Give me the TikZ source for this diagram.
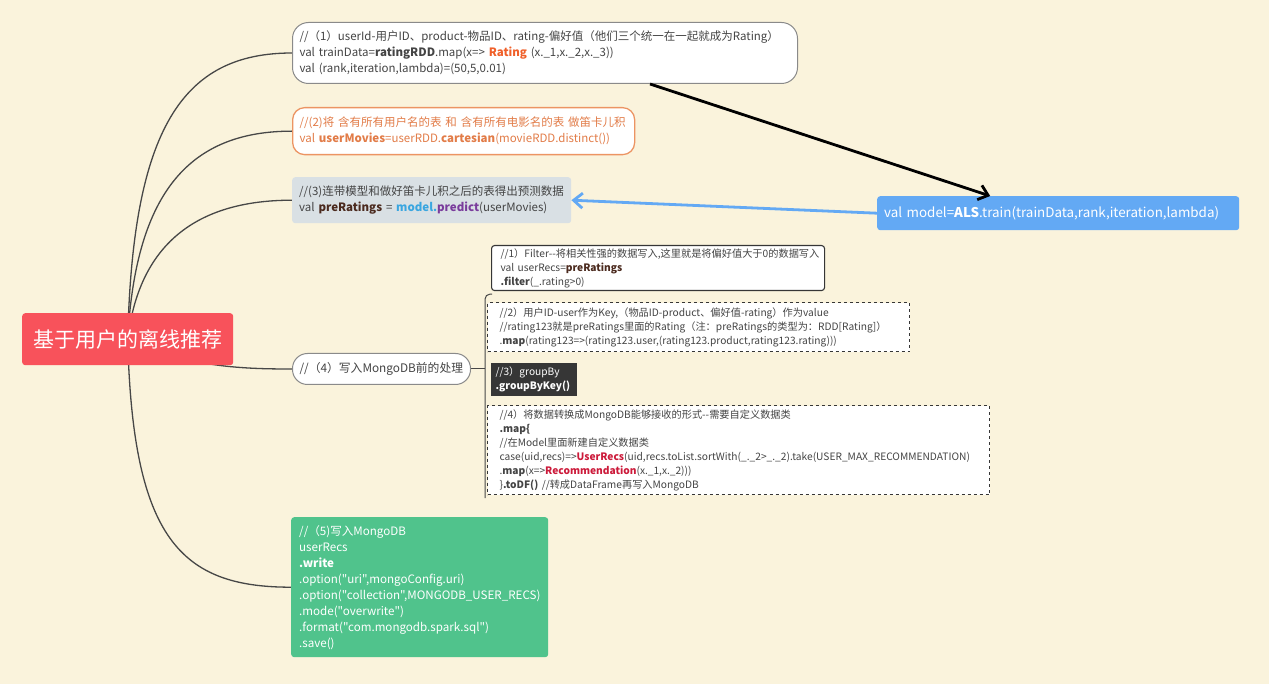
\documentclass[tikz,border=0pt]{standalone}
\usepackage{fontspec}
\newfontfamily\mapfont{Noto Sans CJK SC}
\usepackage{tikz}
\usetikzlibrary{arrows.meta, positioning, backgrounds, calc}

\definecolor{paper}{HTML}{FAF3DC}
\definecolor{rootred}{HTML}{F8525B}
\definecolor{ink}{HTML}{444444}
\definecolor{edgegray}{HTML}{8A8A8A}
\definecolor{wire}{HTML}{474747}
\definecolor{orangeline}{HTML}{EC9463}
\definecolor{orangetext}{HTML}{E27C48}
\definecolor{prefill}{HTML}{D9E0E4}
\definecolor{darkbrown}{HTML}{4B2A1E}
\definecolor{modelblue}{HTML}{3AA6E0}
\definecolor{predpurple}{HTML}{7A3C9C}
\definecolor{alsblue}{HTML}{63A9F4}
\definecolor{subdark}{HTML}{363636}
\definecolor{crimson}{HTML}{CC1A3A}
\definecolor{writegreen}{HTML}{50C38C}
\definecolor{ratingorange}{HTML}{F0602A}

\begin{document}
\begin{tikzpicture}[x=1pt, y=-1pt,
  topic/.style={anchor=north west, align=left, inner xsep=7pt, inner ysep=0pt, text=ink, font=\mapfont\fontsize{11.5}{16}\selectfont},
  subtopic/.style={topic, draw=subdark, line width=1.1pt, fill=white, font=\mapfont\fontsize{10.2}{14}\selectfont},
  branch/.style={draw=wire, line width=1.3pt},
  link/.style={-{Straight Barb[length=9pt, width=15pt]}, line width=2.8pt}
]
  \useasboundingbox (0,0) rectangle (1269,684);

  \node[anchor=north west, fill=rootred, rounded corners=3pt, minimum width=211pt, minimum height=52pt,
        text=white, font=\mapfont\fontsize{21}{24}\selectfont] (root) at (22,313) {基于用户的离线推荐};

  \node[topic, draw=edgegray, line width=1pt, fill=white, rounded corners=16pt, text width=491pt, minimum height=61pt] (train) at (292,22)
    {//（1）userId-用户ID、product-物品ID、rating-偏好值（他们三个统一在一起就成为Rating）\\
     val trainData=\textbf{ratingRDD}.map(x=> \textcolor{ratingorange}{\textbf{Rating}} (x.\_1,x.\_2,x.\_3))\\
     val (rank,iteration,lambda)=(50,5,0.01)};
  \node[topic, draw=orangeline, line width=1.3pt, fill=white, rounded corners=12pt, text=orangetext, text width=328pt, minimum height=47pt] (movies) at (292,107)
    {//(2)将 含有所有用户名的表 和 含有所有电影名的表 做笛卡儿积\\
     val \textbf{userMovies}=userRDD.\textbf{cartesian}(movieRDD.distinct())};
  \node[topic, fill=prefill, rounded corners=3pt, text width=265pt, minimum height=46pt] (pre) at (292,177)
    {//(3)连带模型和做好笛卡儿积之后的表得出预测数据\\
     val \textcolor{darkbrown}{\textbf{preRatings}} = \textcolor{modelblue}{\textbf{model.}}\textcolor{predpurple}{\textbf{predict}}(userMovies)};
  \node[topic, fill=alsblue, rounded corners=3pt, text=white, text width=348pt, minimum height=34pt, font=\mapfont\fontsize{13.4}{16}\selectfont] (als) at (877,196)
    {val model=\textbf{ALS}.train(trainData,rank,iteration,lambda)};
  \node[topic, draw=edgegray, line width=1pt, fill=white, rounded corners=15pt, text width=164pt, minimum height=31pt, font=\mapfont\fontsize{11.8}{16}\selectfont] (todb) at (292,353)
    {//（4）写入MongoDB前的处理};

  \node[subtopic, rounded corners=3pt, inner xsep=9pt, text width=315pt, minimum height=45pt] (filt) at (491,245)
    {//1）Filter--将相关性强的数据写入,这里就是将偏好值大于0的数据写入\\
     val userRecs=\textcolor{darkbrown}{\textbf{preRatings}}\\
     \textbf{.filter}(\_.rating>0)};
  \node[subtopic, dashed, inner xsep=12pt, text width=398pt, minimum height=49pt] (pairs) at (487,302)
    {//2）用户ID-user作为Key,（物品ID-product、偏好值-rating）作为value\\
     //rating123就是preRatings里面的Rating（注：preRatings的类型为：RDD[Rating]）\\
     .\textbf{map}(rating123=>(rating123.user,(rating123.product,rating123.rating)))};
  \node[subtopic, draw=none, fill=subdark, text=white, inner xsep=5pt, text width=76pt, minimum height=33pt] (group) at (490,362)
    {//3）groupBy\\
     \textbf{.groupByKey()}};
  \node[subtopic, dashed, inner xsep=12pt, text width=478pt, minimum height=89pt] (shape) at (487,405)
    {//4）将数据转换成MongoDB能够接收的形式--需要自定义数据类\\
     \textbf{.map\{}\\
     //在Model里面新建自定义数据类\\
     case(uid,recs)=>\textcolor{crimson}{\textbf{UserRecs}}(uid,recs.toList.sortWith(\_.\_2>\_.\_2).take(USER\_MAX\_RECOMMENDATION)\\
     .\textbf{map}(x=>\textcolor{crimson}{\textbf{Recommendation}}(x.\_1,x.\_2)))\\
     \}\textbf{.toDF()} //转成DataFrame再写入MongoDB};

  \node[topic, fill=writegreen, rounded corners=3pt, text=white, inner xsep=8pt, text width=241pt, minimum height=140pt, font=\mapfont\fontsize{11.6}{16}\selectfont] (write) at (291,517)
    {//（5)写入MongoDB\\
     userRecs\\
     \textbf{.write}\\
     .option("uri",mongoConfig.uri)\\
     .option("collection",MONGODB\_USER\_RECS)\\
     .mode("overwrite")\\
     .format("com.mongodb.spark.sql")\\
     .save()};

  \begin{scope}[on background layer]
    \fill[paper] (0,0) rectangle (1269,684);
    \draw[branch] (root.center) .. controls +(5,-210) and +(-110,0) .. (train.west);
    \draw[branch] (root.center) .. controls +(8,-150) and +(-100,0) .. (movies.west);
    \draw[branch] (root.center) .. controls +(12,-100) and +(-90,0) .. (pre.west);
    \draw[branch] (root.center) .. controls +(60,28) and +(-50,0) .. (todb.west);
    \draw[branch] (root.center) .. controls +(5,200) and +(-110,0) .. (write.west);
    \draw[branch, line width=1pt, rounded corners=5pt] ([xshift=1pt, yshift=-3pt]filt.south west) -| ([xshift=-2pt, yshift=-3pt]shape.south west);
    \draw[branch, line width=1pt] (todb.east) -- ([xshift=-2pt]todb.east -| pairs.west);
  \end{scope}

  \draw[link, black] ([xshift=105pt]train.south) -- ([xshift=-68pt]als.north);
  \draw[link, alsblue] (als.west) -- (pre.east);
\end{tikzpicture}
\end{document}
